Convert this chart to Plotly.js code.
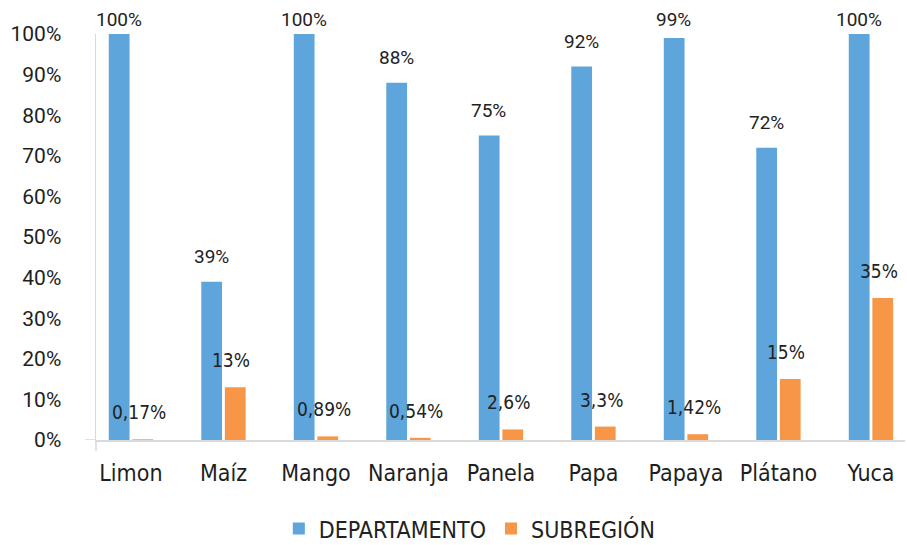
<!DOCTYPE html>
<html>
<head>
<meta charset="utf-8">
<script src="https://cdn.plot.ly/plotly-3.0.1.min.js"></script>
<style>html,body{margin:0;padding:0;background:#fff;}#chart{width:907px;height:545px;}</style>
</head>
<body>
<div id="chart"></div>
<script>
const categories = ["Limon", "Maíz", "Mango", "Naranja", "Panela", "Papa", "Papaya", "Plátano", "Yuca"];
const deptValues = [1.00, 0.39, 1.00, 0.88, 0.75, 0.92, 0.99, 0.72, 1.00];
const subValues = [0.0017, 0.13, 0.0089, 0.0054, 0.026, 0.033, 0.0142, 0.15, 0.35];
const deptLabels = ["100%", "39%", "100%", "88%", "75%", "92%", "99%", "72%", "100%"];
const subLabels = ["0,17%", "13%", "0,89%", "0,54%", "2,6%", "3,3%", "1,42%", "15%", "35%"];
const yTicks = [0, 0.1, 0.2, 0.3, 0.4, 0.5, 0.6, 0.7, 0.8, 0.9, 1.0];

const blue = "#5DA5DA";
const orange = "#F79646";
const numFont = "Roboto, Liberation Sans, sans-serif";
const humanFont = "DejaVu Sans Condensed, DejaVu Sans, sans-serif";
const plotHeightPx = 406;

const traces = [
  {type: "bar", name: "DEPARTAMENTO", x: categories, y: deptValues, marker: {color: blue}, hoverinfo: "skip"},
  {type: "bar", name: "SUBREGIÓN", x: categories, y: subValues, marker: {color: orange}, hoverinfo: "skip"}
];

const annotations = [];
categories.forEach((c, i) => {
  // label sits ~25px above its bar, but Excel keeps it inside the chart area
  const lift = Math.min(0.062, 1.035 - deptValues[i]) * plotHeightPx;
  annotations.push({x: c, y: deptValues[i], yshift: lift, text: deptLabels[i], showarrow: false,
    xshift: -12, yanchor: "middle", font: {family: numFont, size: 19, color: "#222"}});
  annotations.push({x: c, y: subValues[i], text: subLabels[i], showarrow: false,
    xshift: 8, yshift: 27, yanchor: "middle", font: {family: humanFont, size: 19, color: "#222"}});
});

const layout = {
  width: 907, height: 545,
  margin: {l: 96, r: 2, t: 34, b: 105},
  paper_bgcolor: "#fff", plot_bgcolor: "#fff",
  barmode: "group", bargap: 0.49, bargroupgap: 0.12,
  showlegend: true,
  legend: {orientation: "h", xref: "container", yref: "container", x: 0.518, xanchor: "center", y: 0.03, yanchor: "middle",
    font: {family: humanFont, size: 23, color: "#222"}, itemwidth: 30, traceorder: "normal"},
  xaxis: {range: [-0.378, 8.368], showgrid: false, zeroline: false, showline: true, linecolor: "#D9D9D9", linewidth: 1.5,
    ticks: "", ticklabelstandoff: 12, tickfont: {family: humanFont, size: 23, color: "#1e1e1e"}, fixedrange: true},
  yaxis: {range: [0, 1], tickvals: yTicks, tickformat: ".0%", showgrid: false, zeroline: false, showline: true,
    linecolor: "#D9D9D9", linewidth: 1.5, ticks: "", ticklabelstandoff: 29,
    tickfont: {family: numFont, size: 21, color: "#1e1e1e"}, fixedrange: true},
  annotations: annotations,
  shapes: [
    {type: "line", xref: "paper", yref: "y", x0: -0.0136, x1: 0, y0: 0, y1: 0, line: {color: "#D9D9D9", width: 1.5}},
    {type: "line", xref: "paper", yref: "paper", x0: 0, x1: 0, y0: 0, y1: -0.027, line: {color: "#D9D9D9", width: 1.5}}
  ]
};

Plotly.newPlot("chart", traces, layout, {displayModeBar: false, staticPlot: true});
</script>
</body>
</html>
